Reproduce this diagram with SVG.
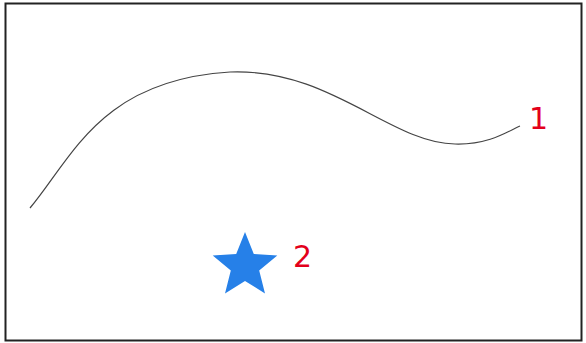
<svg xmlns="http://www.w3.org/2000/svg" width="586" height="343" viewBox="0 0 586 343">
<style>
.lbl{font-family:"DejaVu Sans",sans-serif;font-size:30px;fill:#e3001b}
</style>
<rect x="0" y="0" width="586" height="343" fill="#ffffff"/>
<rect x="5.5" y="3.5" width="576" height="337" fill="none" stroke="#222" stroke-width="2"/>
<g id="curve1">
<path d="M30,208 C72,158 100,80 230,72 C330,68 390,143 455,144 C490,145 510,130 520,126" fill="none" stroke="#444" stroke-width="1.2"/>
<text class="lbl" x="529" y="129">1</text>
</g>
<g id="star2">
<polygon points="245,232 253.8,253.9 277.3,255.5 259.2,270.6 265,293.5 245,280.9 225,293.5 230.8,270.6 212.7,255.5 236.2,253.9" fill="#2680e8"/>
<text class="lbl" x="293" y="267">2</text>
</g>
</svg>
